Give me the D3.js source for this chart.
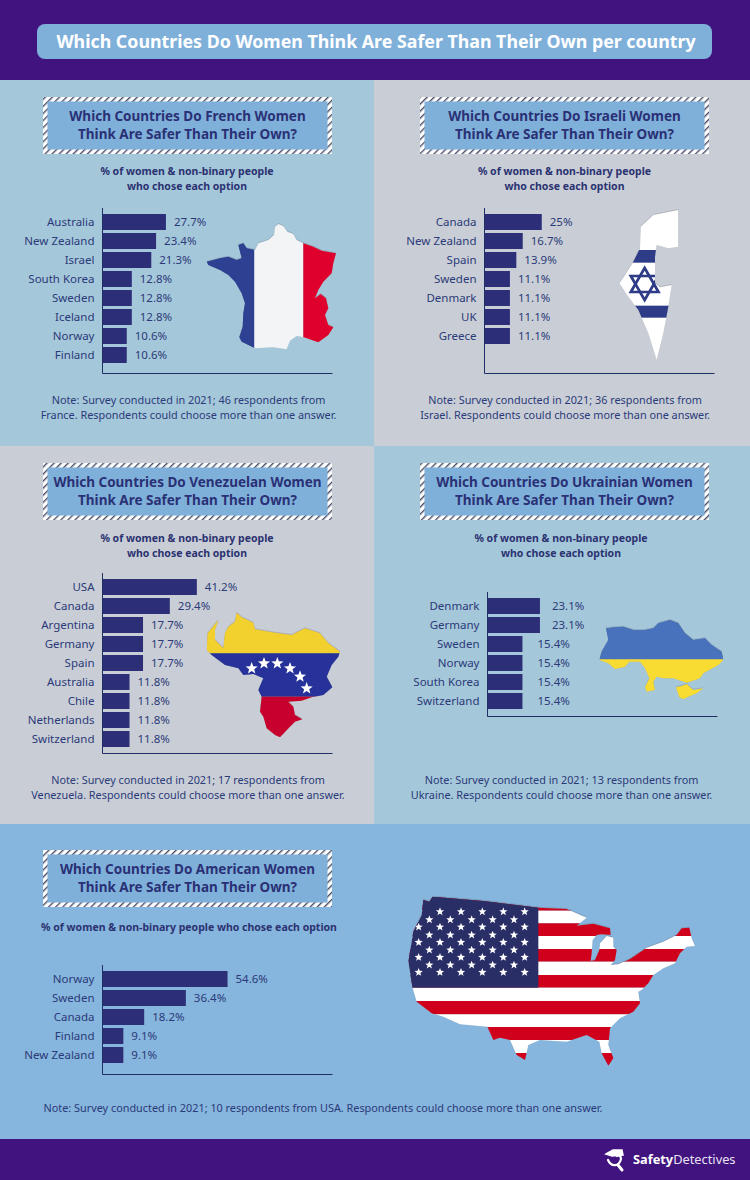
<!DOCTYPE html>
<html lang="en">
<head>
<meta charset="UTF-8">
<title>Which Countries Do Women Think Are Safer</title>
<script src="https://d3js.org/d3.v7.min.js"></script>
<style>
    body, html { margin: 0; background: #41137e; }
    svg { display: block; }
    text { font-family: "Noto Sans", sans-serif; }
    .label, .tick text { font-size: 11.5px; fill: #2b3a78; }
    .sub { font-size: 10.5px; font-weight: 700; fill: #2b3271; text-anchor: middle; }
    .note { font-size: 10.85px; fill: #2b3a78; text-anchor: middle; }
    .head { font-size: 13.5px; font-weight: 700; fill: #2a3075; text-anchor: middle; }
</style>
</head>
<body>
<svg width="750" height="1180"></svg>
<script>
// chart values
const frenchCountries = ["Australia", "New Zealand", "Israel", "South Korea", "Sweden", "Iceland", "Norway", "Finland"];
const frenchValues = [27.7, 23.4, 21.3, 12.8, 12.8, 12.8, 10.6, 10.6];
const israeliCountries = ["Canada", "New Zealand", "Spain", "Sweden", "Denmark", "UK", "Greece"];
const israeliValues = [25, 16.7, 13.9, 11.1, 11.1, 11.1, 11.1];
const venezuelanCountries = ["USA", "Canada", "Argentina", "Germany", "Spain", "Australia", "Chile", "Netherlands", "Switzerland"];
const venezuelanValues = [41.2, 29.4, 17.7, 17.7, 17.7, 11.8, 11.8, 11.8, 11.8];
const ukrainianCountries = ["Denmark", "Germany", "Sweden", "Norway", "South Korea", "Switzerland"];
const ukrainianValues = [23.1, 23.1, 15.4, 15.4, 15.4, 15.4];
const americanCountries = ["Norway", "Sweden", "Canada", "Finland", "New Zealand"];
const americanValues = [54.6, 36.4, 18.2, 9.1, 9.1];

const navy = "#2c2f78", purple = "#41137e", boxBlue = "#7fb0da";
const teal = "#a5c7da", grey = "#c9ced6", sky = "#86b5dd";

const svg = d3.select("svg");
const defs = svg.append("defs");

// hatched border of the heading boxes
const hatch = defs.append("pattern").attr("id", "hatch")
    .attr("width", 5).attr("height", 5)
    .attr("patternUnits", "userSpaceOnUse")
    .attr("patternTransform", "rotate(45)");
hatch.append("rect").attr("width", 5).attr("height", 5).attr("fill", "#fff");
hatch.append("rect").attr("width", 1.4).attr("height", 5).attr("fill", "#4a4f68");

const shadow = defs.append("filter").attr("id", "shadow")
    .attr("x", "-10%").attr("y", "-10%").attr("width", "120%").attr("height", "120%");
shadow.append("feDropShadow").attr("dx", 0).attr("dy", -1).attr("stdDeviation", 1)
    .attr("flood-color", "#4a5568").attr("flood-opacity", 0.7);

// backgrounds
const backgrounds = [
    [0, 0, 750, 80, purple],
    [0, 80, 374, 366, teal],
    [374, 80, 376, 366, grey],
    [0, 446, 374, 378, grey],
    [374, 446, 376, 378, teal],
    [0, 824, 750, 315, sky],
    [0, 1139, 750, 41, purple]
];
svg.selectAll("rect.bg").data(backgrounds).join("rect").attr("class", "bg")
    .attr("x", d => d[0]).attr("y", d => d[1])
    .attr("width", d => d[2]).attr("height", d => d[3])
    .attr("fill", d => d[4]);

// title
svg.append("rect").attr("x", 37).attr("y", 24).attr("width", 675).attr("height", 35)
    .attr("rx", 8).attr("fill", boxBlue);
svg.append("text").attr("x", 376).attr("y", 48).attr("text-anchor", "middle")
    .attr("font-size", 17.8).attr("font-weight", 700).attr("fill", "#fff")
    .text("Which Countries Do Women Think Are Safer Than Their Own per country");

const barStep = 19;

function drawPanel(c) {
    const g = svg.append("g");
    const perPercent = c.perPercent || 2.29;
    g.append("rect").attr("x", c.boxX).attr("y", c.boxY).attr("width", 289).attr("height", 57)
        .attr("fill", "url(#hatch)");
    g.append("rect").attr("x", c.boxX + 4.5).attr("y", c.boxY + 4.5).attr("width", 280).attr("height", 48)
        .attr("fill", boxBlue);
    g.selectAll("text.head").data(c.head).join("text").attr("class", "head")
        .attr("x", c.boxX + 144.5).attr("y", (d, i) => c.boxY + 24 + i * 18).text(d => d);

    g.selectAll("text.sub").data(c.sub).join("text").attr("class", "sub")
        .attr("x", c.subX).attr("y", (d, i) => c.subY + i * 15).text(d => d);
    g.selectAll("text.note").data(c.note).join("text").attr("class", "note")
        .attr("x", c.noteX).attr("y", (d, i) => c.noteY + i * 15).text(d => d);

    const x = d3.scaleLinear().domain([0, 100]).range([c.axisX, c.axisX + 100 * perPercent]);
    const y = d3.scaleBand().domain(c.countries)
        .range([c.barTop, c.barTop + c.countries.length * barStep - 3])
        .paddingInner(3 / 19).paddingOuter(0).align(0);

    g.selectAll("rect.bar").data(c.values).join("rect").attr("class", "bar")
        .attr("x", c.axisX)
        .attr("y", (d, i) => y(c.countries[i]))
        .attr("width", d => x(d) - c.axisX)
        .attr("height", y.bandwidth())
        .attr("fill", navy);
    g.selectAll("text.label").data(c.values).join("text").attr("class", "label")
        .attr("x", (d, i) => x(d) + (c.labelGap ? c.labelGap(i) : 8))
        .attr("y", (d, i) => y(c.countries[i]) + y.bandwidth() / 2)
        .attr("dy", "0.36em")
        .text(d => d + "%");

    const yAxis = g.append("g").attr("transform", `translate(${c.axisX},0)`)
        .call(d3.axisLeft(y).tickSize(0).tickPadding(8));
    yAxis.select(".domain").remove();
    yAxis.selectAll("text").attr("font-family", null).attr("font-size", null);

    g.append("line").attr("x1", c.axisX).attr("x2", c.axisX).attr("y1", c.barTop - 6).attr("y2", c.axisBottom)
        .attr("stroke", "#1f2f66");
    g.append("line").attr("x1", c.axisX).attr("x2", c.axisX + 230).attr("y1", c.axisBottom).attr("y2", c.axisBottom)
        .attr("stroke", "#1f2f66");
}

drawPanel({
    countries: frenchCountries, values: frenchValues,
    head: ["Which Countries Do French Women", "Think Are Safer Than Their Own?"],
    sub: ["% of women & non-binary people", "who chose each option"],
    note: ["Note: Survey conducted in 2021; 46 respondents from", "France. Respondents could choose more than one answer."],
    boxX: 43, boxY: 97, subX: 187, subY: 175, noteX: 188.5, noteY: 404,
    axisX: 102.5, barTop: 214, axisBottom: 373.5
});
drawPanel({
    countries: israeliCountries, values: israeliValues,
    head: ["Which Countries Do Israeli Women", "Think Are Safer Than Their Own?"],
    sub: ["% of women & non-binary people", "who chose each option"],
    note: ["Note: Survey conducted in 2021; 36 respondents from", "Israel. Respondents could choose more than one answer."],
    boxX: 420, boxY: 97, subX: 564.5, subY: 175, noteX: 565, noteY: 404,
    axisX: 484.5, barTop: 214, axisBottom: 373.5
});
drawPanel({
    countries: venezuelanCountries, values: venezuelanValues,
    head: ["Which Countries Do Venezuelan Women", "Think Are Safer Than Their Own?"],
    sub: ["% of women & non-binary people", "who chose each option"],
    note: ["Note: Survey conducted in 2021; 17 respondents from", "Venezuela. Respondents could choose more than one answer."],
    boxX: 43, boxY: 463, subX: 187, subY: 542, noteX: 188, noteY: 784,
    axisX: 102.5, barTop: 579, axisBottom: 753.5
});
drawPanel({
    countries: ukrainianCountries, values: ukrainianValues,
    head: ["Which Countries Do Ukrainian Women", "Think Are Safer Than Their Own?"],
    sub: ["% of women & non-binary people", "who chose each option"],
    note: ["Note: Survey conducted in 2021; 13 respondents from", "Ukraine. Respondents could choose more than one answer."],
    boxX: 420, boxY: 463, subX: 561, subY: 542, noteX: 561.5, noteY: 784,
    axisX: 487.5, barTop: 598, axisBottom: 716.5, perPercent: 2.27,
    labelGap: i => (i < 2 ? 12 : 15)
});
drawPanel({
    countries: americanCountries, values: americanValues,
    head: ["Which Countries Do American Women", "Think Are Safer Than Their Own?"],
    sub: ["% of women & non-binary people who chose each option"],
    note: ["Note: Survey conducted in 2021; 10 respondents from USA. Respondents could choose more than one answer."],
    boxX: 43, boxY: 850, subX: 189, subY: 931, noteX: 323, noteY: 1112,
    axisX: 102.5, barTop: 971, axisBottom: 1074.5
});

// flag shaped maps, outlines traced at 3x and scaled down
const franceOutline = [[235,42],[250,48],[262,65],[280,72],[290,90],[310,100],[340,110],[365,122],[408,130],[400,160],[395,190],[370,215],[355,240],[345,265],[362,252],[378,265],[385,295],[375,315],[385,345],[400,352],[385,375],[355,397],[335,390],[312,382],[290,378],[270,392],[260,418],[220,412],[165,415],[125,395],[118,382],[128,350],[130,310],[135,280],[125,250],[105,215],[85,195],[60,180],[25,165],[20,155],[60,145],[85,140],[110,150],[125,145],[115,105],[130,100],[140,115],[165,120],[175,100],[205,90],[222,75],[225,50]];
const israelOutline = [[235,30],[235,140],[205,145],[170,135],[165,170],[165,250],[180,262],[215,255],[205,320],[190,400],[170,480],[145,400],[115,330],[85,290],[58,250],[75,225],[100,185],[120,145],[122,80],[160,45]];
const venezuelaOutline = [[125,38],[140,52],[175,68],[180,88],[240,98],[290,105],[330,85],[375,100],[400,130],[435,155],[430,170],[410,195],[395,230],[412,262],[385,285],[350,292],[320,302],[280,305],[295,320],[300,345],[322,358],[300,365],[285,380],[255,412],[240,405],[215,385],[205,350],[195,335],[200,290],[190,270],[205,235],[175,222],[145,225],[130,205],[90,195],[50,165],[35,150],[38,100],[70,60],[60,90],[60,120],[85,145],[90,100],[100,80],[120,65]];
const ukraineOutline = [[48,55],[75,52],[100,50],[130,60],[165,60],[190,55],[205,40],[240,30],[265,40],[285,70],[310,90],[345,85],[365,105],[395,125],[400,150],[385,165],[340,190],[330,205],[300,215],[290,218],[250,205],[220,205],[200,200],[190,215],[195,240],[170,245],[165,232],[178,205],[165,175],[150,155],[118,155],[105,170],[75,177],[55,160],[28,150],[35,125],[55,90]];
const crimeaOutline = [[258,232],[275,228],[290,222],[310,240],[340,235],[320,250],[300,258],[280,268],[268,262]];
const usaOutline = [[98,35],[250,48],[415,68],[500,72],[560,98],[530,122],[580,116],[630,130],[632,150],[605,148],[590,150],[578,165],[575,205],[572,228],[585,225],[598,195],[600,175],[620,153],[640,158],[640,185],[650,195],[645,225],[632,240],[655,238],[690,222],[740,188],[790,170],[830,150],[845,130],[868,128],[875,160],[885,183],[860,185],[840,205],[825,235],[790,250],[760,270],[745,295],[725,315],[715,320],[720,355],[700,380],[660,400],[630,430],[625,480],[640,520],[625,542],[605,505],[598,470],[560,450],[500,470],[420,465],[385,480],[375,525],[350,510],[330,465],[300,458],[280,465],[262,425],[180,418],[130,395],[95,385],[50,350],[38,310],[25,230],[40,140],[65,90],[70,45],[88,50]];

const outline = d3.line().curve(d3.curveLinearClosed);

function starPath(cx, cy, r) {
    const pts = d3.range(10).map(i => {
        const a = -Math.PI / 2 + i * Math.PI / 5, rr = i % 2 ? r * 0.42 : r;
        return [cx + rr * Math.cos(a), cy + rr * Math.sin(a)];
    });
    return outline(pts);
}

function drawMap(id, ox, oy, shapes, bands, extra) {
    const clip = defs.append("clipPath").attr("id", id);
    shapes.forEach(s => clip.append("path").attr("d", outline(s)));
    const holder = svg.append("g").attr("filter", "url(#shadow)")
        .attr("transform", `translate(${ox},${oy}) scale(${1 / 3})`);
    const g = holder.append("g").attr("clip-path", `url(#${id})`);
    g.selectAll("rect").data(bands).join("rect")
        .attr("x", d => d[0]).attr("y", d => d[1])
        .attr("width", d => d[2] - d[0]).attr("height", d => d[3] - d[1])
        .attr("fill", d => d[4]);
    if (extra) extra(g);
}

drawMap("fr", 200, 210, [franceOutline], [
    [0, 0, 163, 450, "#2d3f92"],
    [163, 0, 310, 450, "#f3f4f6"],
    [310, 0, 450, 450, "#e0062f"]
]);

drawMap("il", 600, 200, [israelOutline], [
    [0, 0, 330, 510, "#fff"],
    [0, 150, 330, 188, "#2d3a86"],
    [0, 317, 330, 353, "#2d3a86"]
], g => {
    const tri = (cx, cy, r, up) => outline(d3.range(3).map(i => {
        const a = (up ? -Math.PI / 2 : Math.PI / 2) + i * 2 * Math.PI / 3;
        return [cx + r * Math.cos(a), cy + r * Math.sin(a)];
    }));
    [true, false].forEach(up => g.append("path").attr("d", tri(134, 252, 48, up))
        .attr("fill", "none").attr("stroke", "#2d3a86").attr("stroke-width", 8));
});

drawMap("ve", 195, 600, [venezuelaOutline], [
    [0, 0, 465, 160, "#f2d02d"],
    [0, 160, 465, 290, "#28339a"],
    [0, 290, 465, 435, "#c8062f"]
], g => {
    const stars = [[170,205],[207,190],[247,190],[285,205],[315,230],[335,265]];
    g.selectAll("path.star").data(stars).join("path").attr("class", "star")
        .attr("d", d => starPath(d[0], d[1], 19)).attr("fill", "#fff");
});

drawMap("ua", 590, 610, [ukraineOutline, crimeaOutline], [
    [0, 0, 420, 148, "#4a72bd"],
    [0, 148, 420, 300, "#f8dc32"]
]);

// stripes of the american flag, red first
const usaStripes = [[30,77,"#d0021b"],[77,115,"#fff"],[115,153,"#d0021b"],[153,192,"#fff"],[192,230,"#d0021b"],[230,270,"#fff"],[270,308,"#d0021b"],[308,348,"#fff"],[348,388,"#d0021b"],[388,426,"#fff"],[426,465,"#d0021b"],[465,504,"#fff"],[504,545,"#d0021b"]];
drawMap("us", 400, 885, [usaOutline],
    usaStripes.map(d => [0, d[0], 900, d[1], d[2]]).concat([[0, 30, 415, 308, "#2a2f66"]]),
    g => {
        const rows = [80, 104, 126, 150, 172, 195, 217, 240, 262];
        rows.forEach((ry, i) => {
            const xs = i % 2 ? [88, 151, 215, 278, 342] : [56, 120, 183, 247, 310, 374];
            xs.forEach(rx => g.append("path").attr("d", starPath(rx, ry, 13)).attr("fill", "#fff"));
        });
    });

// footer logo
const logo = svg.append("g").attr("fill", "none").attr("stroke", "#fff").attr("stroke-linecap", "round");
logo.append("path").attr("d", "M606 1154 L613 1150 L622 1150 L623 1155 L612 1156 Z").attr("fill", "#fff").attr("stroke-width", 1.5);
logo.append("path").attr("d", "M608 1160 C611 1167 619 1167 621 1159 C621 1155 618 1155 617 1156").attr("stroke-width", 2.2);
logo.append("path").attr("d", "M618 1165 L622 1170").attr("stroke-width", 3);
const brand = svg.append("text").attr("x", 633).attr("y", 1164).attr("font-size", 12.8).attr("fill", "#fff");
brand.append("tspan").attr("font-weight", 700).text("Safety");
brand.append("tspan").attr("fill", "#e8e0f5").text("Detectives");
</script>
</body>
</html>
